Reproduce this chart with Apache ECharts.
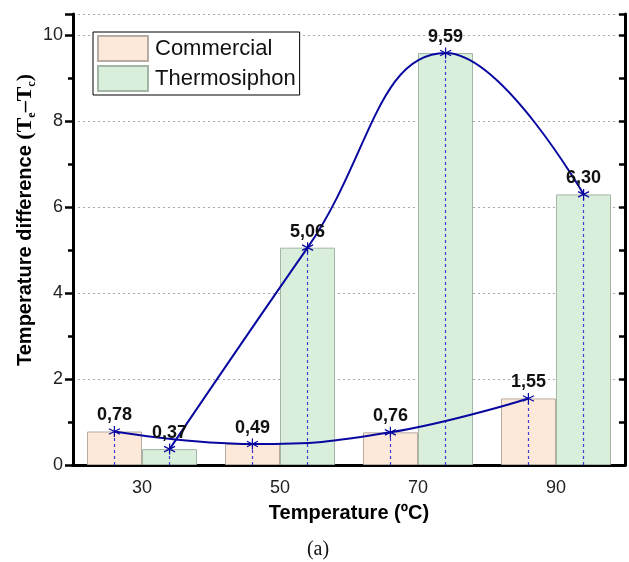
<!DOCTYPE html>
<html>
<head>
<meta charset="utf-8">
<script src="https://cdn.jsdelivr.net/npm/echarts@6/dist/echarts.min.js"></script>
<style>
  html, body { margin: 0; padding: 0; background: #fff; }
  #chart { width: 629px; height: 562px; }
</style>
</head>
<body>
<div id="chart"></div>
<script>
// 数据
var categories = ['30', '50', '70', '90'];
var commercial = [0.78, 0.49, 0.76, 1.55];
var thermosiphon = [0.37, 5.06, 9.59, 6.30];
// 折线点的横坐标（柱子中心）
var commercialX = [26, 46, 66, 86];
var thermoX = [34, 54, 74, 94];

var lineColor = '#0808a0';
var font = 'Liberation Sans';

function pairs(xs, ys) {
    return xs.map(function(x, i) { return [x, ys[i]]; });
}
function drops(xs, ys) {
    return xs.map(function(x, i) {
        return [{ coord: [x, 0] }, { coord: [x, ys[i]] }];
    });
}
function fmt(p) {
    return p.value[1].toFixed(2).replace('.', ',');
}

function lineSeries(name, xs, ys) {
    return {
        name: name + '-line',
        type: 'line',
        xAxisIndex: 2,
        yAxisIndex: 0,
        data: pairs(xs, ys),
        smooth: 0.45,
        symbol: 'path://M0,-1L0,1M-0.87,-0.5L0.87,0.5M-0.87,0.5L0.87,-0.5',
        symbolSize: 11,
        lineStyle: { color: lineColor, width: 2 },
        itemStyle: { color: lineColor, borderColor: lineColor, borderWidth: 1.2 },
        label: {
            show: true,
            position: 'top',
            distance: 1,
            formatter: fmt,
            fontFamily: font,
            fontWeight: 'bold',
            fontSize: 18,
            color: '#111'
        },
        markLine: {
            silent: true,
            symbol: 'none',
            label: { show: false },
            lineStyle: { type: [3, 3], color: '#3c3cd8', width: 1.2 },
            data: drops(xs, ys)
        },
        z: 5
    };
}

var myChart = echarts.init(document.getElementById('chart'));

var option = {
    animation: false,
    grid: { left: 73, right: 4, top: 14, bottom: 97 },
    legend: {
        left: 93,
        top: 32,
        orient: 'vertical',
        data: ['Commercial', 'Thermosiphon'],
        icon: 'rect',
        itemWidth: 50,
        itemHeight: 25,
        itemGap: 3,
        padding: [3, 4, 3, 4],
        borderColor: '#000',
        borderWidth: 1,
        borderRadius: 0,
        backgroundColor: '#fff',
        textStyle: { fontFamily: font, fontSize: 22, color: '#111', padding: [0, 0, 0, 2] }
    },
    xAxis: [{
        type: 'category',
        data: categories,
        position: 'bottom',
        axisLine: { lineStyle: { color: '#000', width: 3 } },
        axisTick: { alignWithLabel: true, length: 8, lineStyle: { width: 2.5, color: '#000' } },
        axisLabel: { fontFamily: font, fontSize: 18, color: '#222', margin: 14 }
    }, {
        type: 'category',
        data: categories,
        position: 'top',
        axisLine: { lineStyle: { color: '#000', width: 3 } },
        axisTick: { alignWithLabel: true, inside: true, length: 8, lineStyle: { width: 2.5, color: '#000' } },
        axisLabel: { show: false }
    }, {
        type: 'value',
        min: 20,
        max: 100,
        show: false
    }],
    yAxis: [{
        type: 'value',
        min: 0,
        max: 10.5,
        interval: 2,
        axisLine: { show: true, lineStyle: { color: '#000', width: 3 } },
        axisTick: { show: true, length: 8, lineStyle: { width: 2.5, color: '#000' } },
        minorTick: { show: true, splitNumber: 2, length: 5, lineStyle: { width: 2.5, color: '#000' } },
        axisLabel: {
            fontFamily: font, fontSize: 18, color: '#222', margin: 10,
            formatter: function(v) { return v % 2 === 0 ? v : ''; }
        },
        splitLine: { show: true, lineStyle: { type: [2, 3], color: '#aaa', width: 1 } }
    }, {
        type: 'value',
        min: 0,
        max: 10.5,
        interval: 1,
        position: 'right',
        axisLine: { show: true, lineStyle: { color: '#000', width: 3 } },
        axisTick: { show: true, inside: true, length: 6, lineStyle: { width: 2.5, color: '#000' } },
        axisLabel: { show: false },
        splitLine: { show: false }
    }],
    graphic: [{
        type: 'text',
        x: 25,
        y: 220,
        rotation: Math.PI / 2,
        style: {
            text: '{b|Temperature difference }{s|(T}{sub|e}{s|–T}{sub|c}{s|)}',
            align: 'center',
            verticalAlign: 'middle',
            fill: '#000',
            rich: {
                b: { fontFamily: font, fontWeight: 'bold', fontSize: 20, lineHeight: 26 },
                s: { fontFamily: 'Liberation Serif', fontWeight: 'bold', fontSize: 22, lineHeight: 26 },
                sub: { fontFamily: 'Liberation Serif', fontWeight: 'bold', fontSize: 12, lineHeight: 26, verticalAlign: 'bottom', padding: [8, 0, 0, 0] }
            }
        }
    }, {
        type: 'text',
        x: 349,
        y: 513,
        style: {
            text: 'Temperature (ºC)',
            align: 'center',
            verticalAlign: 'middle',
            fontFamily: font,
            fontWeight: 'bold',
            fontSize: 20,
            fill: '#000'
        }
    }, {
        type: 'text',
        x: 318,
        y: 550,
        style: {
            text: '(a)',
            align: 'center',
            verticalAlign: 'middle',
            fontFamily: 'Liberation Serif',
            fontSize: 20,
            fill: '#111'
        }
    }],
    series: [{
        name: 'Commercial',
        type: 'bar',
        data: commercial,
        barWidth: 55,
        barGap: '0%',
        itemStyle: { color: '#fde9d9', borderColor: '#b8aca2', borderWidth: 1 }
    }, {
        name: 'Thermosiphon',
        type: 'bar',
        data: thermosiphon,
        barWidth: 55,
        barGap: '0%',
        itemStyle: { color: '#d9efdb', borderColor: '#a3b5a4', borderWidth: 1 }
    },
    lineSeries('Commercial', commercialX, commercial),
    lineSeries('Thermosiphon', thermoX, thermosiphon)
    ]
};

myChart.setOption(option);
</script>
</body>
</html>
